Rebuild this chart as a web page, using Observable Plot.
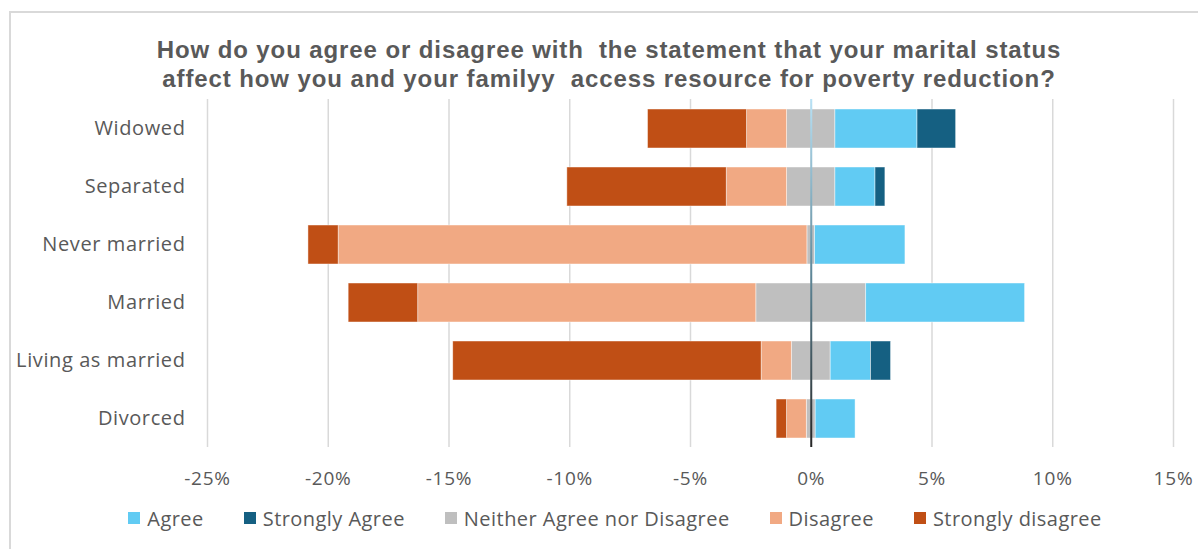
<!DOCTYPE html>
<html>
<head>
<meta charset="utf-8">
<script src="https://cdn.jsdelivr.net/npm/d3@7"></script>
<script src="https://cdn.jsdelivr.net/npm/@observablehq/plot@0.6"></script>
<style>
  html, body { margin: 0; padding: 0; background: #fff; overflow: hidden; width: 1198px; height: 549px; }
  #frame { position: absolute; left: 9px; top: 11px; width: 1400px; height: 800px; border: 2px solid #d9d9d9; box-sizing: border-box; pointer-events: none; }
  #title { height: 90px; box-sizing: border-box; padding-top: 35px; padding-left: 20px; text-align: center; font-family: "Liberation Sans", Arial, sans-serif; font-weight: bold; font-size: 24px; letter-spacing: 0.9px; line-height: 29px; color: #595959; white-space: pre; }
  #legend { display: flex; justify-content: center; align-items: center; padding-left: 32px; height: 50px; font-family: "Open Sans", sans-serif; font-size: 20px; letter-spacing: 0.45px; color: #595959; }
  #legend .item { display: flex; align-items: center; margin: 0 20px; }
  #legend .sw { width: 12px; height: 12px; margin-right: 7px; }
  svg { display: block; }
</style>
</head>
<body>
<div id="frame"></div>
<div id="title">How do you agree or disagree with  the statement that your marital status
affect how you and your familyy  access resource for poverty reduction?</div>
<div id="chart"></div>
<div id="legend"></div>
<script>
const categories = ["Widowed", "Separated", "Never married", "Married", "Living as married", "Divorced"];
const stronglyDisagree = [4.1, 6.6, 1.25, 2.88, 12.77, 0.43];
const disagree = [1.66, 2.5, 19.41, 14.0, 1.25, 0.82];
const neutral = [2.0, 2.0, 0.32, 4.55, 1.61, 0.37];
const agree = [3.4, 1.66, 3.74, 6.58, 1.67, 1.65];
const stronglyAgree = [1.6, 0.41, 0, 0, 0.83, 0];
const xTicks = [-25, -20, -15, -10, -5, 0, 5, 10, 15];

const seriesNames = ["Agree", "Strongly Agree", "Neither Agree nor Disagree", "Disagree", "Strongly disagree"];
const seriesColors = ["#61cbf3", "#156082", "#bfbfbf", "#f1a983", "#c04f15"];

// Build diverging segments from the data arrays
const segments = [];
categories.forEach((c, i) => {
  const half = neutral[i] / 2;
  let l = -half;
  segments.push({cat: c, s: "Neither Agree nor Disagree", x1: -half, x2: half});
  segments.push({cat: c, s: "Disagree", x1: l - disagree[i], x2: l});
  l -= disagree[i];
  segments.push({cat: c, s: "Strongly disagree", x1: l - stronglyDisagree[i], x2: l});
  let r = half;
  segments.push({cat: c, s: "Agree", x1: r, x2: r + agree[i]});
  r += agree[i];
  segments.push({cat: c, s: "Strongly Agree", x1: r, x2: r + stronglyAgree[i]});
});
const bars = segments.filter(d => d.x2 - d.x1 > 0);

const W = 1198, H = 403, mTop = 9, mBottom = 46;
const plot = Plot.plot({
  width: W,
  height: H,
  marginLeft: 207,
  marginRight: 25,
  marginTop: mTop,
  marginBottom: mBottom,
  style: {fontFamily: "Open Sans, sans-serif", color: "#595959", background: "transparent"},
  x: {domain: [-25, 15], ticks: xTicks},
  y: {domain: categories, paddingInner: 0.33, paddingOuter: 0.165},
  color: {domain: seriesNames, range: seriesColors},
  marks: [
    Plot.gridX(xTicks, {stroke: "#d9d9d9", strokeOpacity: 1, strokeWidth: 1.5}),
    Plot.barX(bars, {x1: "x1", x2: "x2", y: "cat", fill: "s", stroke: "#ffffff", strokeWidth: 0.75, strokeOpacity: 0.6}),
    Plot.ruleX([0], {stroke: "url(#zeroGrad)", strokeWidth: 2}),
    Plot.axisX(xTicks, {tickSize: 0, tickPadding: 24, tickFormat: d => d + "%", fontSize: 19, fill: "#595959", label: null}),
    Plot.axisY({tickSize: 0, tickPadding: 22, fontSize: 20, fill: "#595959", label: null})
  ]
});

const svg = d3.select(plot);
svg.selectAll("g[aria-label='x-axis tick label'] text").style("letter-spacing", "0.8px");
svg.selectAll("g[aria-label='y-axis tick label'] text").style("letter-spacing", "0.6px");
const defs = svg.insert("defs", ":first-child");
const grad = defs.append("linearGradient")
  .attr("id", "zeroGrad")
  .attr("gradientUnits", "userSpaceOnUse")
  .attr("x1", 0).attr("x2", 0)
  .attr("y1", mTop).attr("y2", H - mBottom);
grad.append("stop").attr("offset", "0%").attr("stop-color", "#b8e2f6");
grad.append("stop").attr("offset", "50%").attr("stop-color", "#5f8899");
grad.append("stop").attr("offset", "100%").attr("stop-color", "#262626");

document.getElementById("chart").appendChild(plot);

const legend = d3.select("#legend");
seriesNames.forEach((n, i) => {
  const it = legend.append("div").attr("class", "item");
  it.append("div").attr("class", "sw").style("background", seriesColors[i]);
  it.append("span").text(n);
});
</script>
</body>
</html>
